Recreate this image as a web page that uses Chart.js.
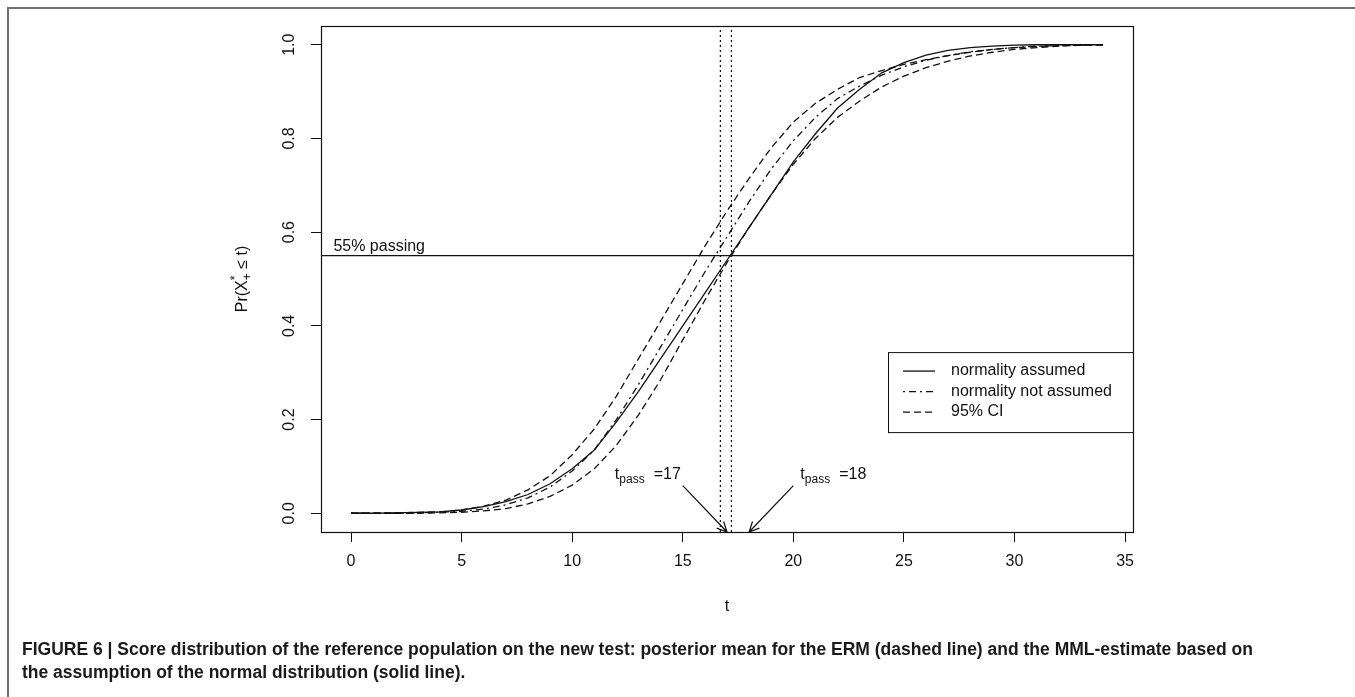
<!DOCTYPE html>
<html>
<head>
<meta charset="utf-8">
<script src="https://cdn.jsdelivr.net/npm/chart.js@4.4.1/dist/chart.umd.min.js"></script>
<style>
  html, body { margin: 0; padding: 0; background: #fff; }
  #wrap { position: relative; width: 1355px; height: 697px; overflow: hidden; }
  #frame { position: absolute; left: 7px; top: 7px; right: -5px; bottom: -5px;
           border-left: 2px solid #6e6e6e; border-top: 2px solid #6e6e6e; }
  canvas { position: absolute; left: 0; top: 0; }
  #caption { position: absolute; left: 22px; top: 638px; color: #1a1a1a; white-space: nowrap;
             font: bold 17.5px "Liberation Sans", Arial, sans-serif; line-height: 23px; }
</style>
</head>
<body>
<div id="wrap">
  <div id="frame"></div>
  <canvas id="c" width="1355" height="697"></canvas>
  <div id="caption">FIGURE 6 | Score distribution of the reference population on the new test: posterior mean for the ERM (dashed line) and the MML-estimate based on<br>the assumption of the normal distribution (solid line).</div>
</div>
<script>
// score t = 0..34
const T = [0,1,2,3,4,5,6,7,8,9,10,11,12,13,14,15,16,17,18,19,20,21,22,23,24,25,26,27,28,29,30,31,32,33,34];
// Pr(X+* <= t)
const NORMAL   = [0,0,0.001,0.002,0.003,0.007,0.014,0.025,0.040,0.063,0.095,0.135,0.195,0.26,0.33,0.40,0.47,0.54,0.61,0.68,0.75,0.81,0.865,0.905,0.94,0.962,0.978,0.988,0.994,0.997,0.999,1,1,1,1];
const ERM      = [0,0,0,0.001,0.002,0.004,0.009,0.018,0.033,0.056,0.09,0.135,0.20,0.275,0.355,0.435,0.515,0.59,0.665,0.735,0.795,0.845,0.885,0.912,0.935,0.953,0.967,0.977,0.985,0.99,0.994,0.997,0.998,0.999,1];
const CI_UPPER = [0,0,0.001,0.002,0.003,0.007,0.015,0.028,0.05,0.08,0.125,0.18,0.25,0.33,0.41,0.49,0.57,0.645,0.715,0.78,0.835,0.875,0.905,0.93,0.945,0.958,0.968,0.977,0.984,0.99,0.994,0.996,0.998,0.999,1];
const CI_LOWER = [0,0,0,0,0.001,0.002,0.005,0.01,0.02,0.036,0.06,0.095,0.145,0.21,0.285,0.37,0.455,0.535,0.61,0.68,0.745,0.8,0.845,0.88,0.91,0.933,0.951,0.965,0.976,0.984,0.99,0.994,0.997,0.999,1];

const PASS_LEVEL = 0.55;
const T_PASS_LINES = [16.7, 17.2];
const X_TICKS = [0, 5, 10, 15, 20, 25, 30, 35];
const Y_TICKS = [0, 0.2, 0.4, 0.6, 0.8, 1.0];
const X_RANGE = [-1.36, 35.36];
const Y_RANGE = [-0.04, 1.04];

// arrows to t_pass
const ARROW_FROM_T = [15, 20];
const ARROW_TO_T = [17, 18];
const ARROW_FROM_P = 0.059;
const ARROW_TO_P = -0.04;
const PASS_LABELS = ['=17', '=18'];

const LEGEND_LABELS = ['normality assumed', 'normality not assumed', '95% CI'];

const FONT = '"Liberation Sans", Arial, Helvetica, sans-serif';
const INK = '#111';
const SOLID = [];
const DASH = [7, 4];
const DOTDASH = [2, 4, 7, 4];
const DOTS = [2, 3];

Chart.defaults.font.family = FONT;
Chart.defaults.font.size = 16;
Chart.defaults.color = INK;

const pts = ys => T.map((t, i) => ({ x: t, y: ys[i] }));
const curve = (label, ys, dash) => ({
  label, data: pts(ys), borderColor: INK, borderWidth: 1.3, borderDash: dash,
  pointRadius: 0, tension: 0, fill: false
});

const datasets = [
  curve('normality assumed', NORMAL, SOLID),
  curve('normality not assumed', ERM, DOTDASH),
  curve('95% CI', CI_UPPER, DASH),
  curve('95% CI lower', CI_LOWER, DASH),
  { label: 'pass', data: [{ x: X_RANGE[0], y: PASS_LEVEL }, { x: X_RANGE[1], y: PASS_LEVEL }],
    borderColor: INK, borderWidth: 1.3, pointRadius: 0 },
  ...T_PASS_LINES.map(v => ({ label: 't' + v, data: [{ x: v, y: Y_RANGE[0] }, { x: v, y: Y_RANGE[1] }],
    borderColor: INK, borderWidth: 1.2, borderDash: DOTS, pointRadius: 0 }))
];

// t with subscript "pass"
function tPass(ctx, x, y, tail, alignRight) {
  ctx.font = '16px ' + FONT;
  const wt = ctx.measureText('t').width;
  const wr = ctx.measureText(tail).width;
  ctx.font = '12px ' + FONT;
  const ws = ctx.measureText('pass').width;
  const gap = 9;
  const w = wt + ws + gap + wr;
  let x0 = alignRight ? x - w : x;
  ctx.textAlign = 'left';
  ctx.textBaseline = 'alphabetic';
  ctx.font = '16px ' + FONT;
  ctx.fillText('t', x0, y);
  ctx.font = '12px ' + FONT;
  ctx.fillText('pass', x0 + wt, y + 4);
  ctx.font = '16px ' + FONT;
  ctx.fillText(tail, x0 + wt + ws + gap, y);
}

function arrow(ctx, x1, y1, x2, y2) {
  ctx.beginPath();
  ctx.moveTo(x1, y1); ctx.lineTo(x2, y2);
  const a = Math.atan2(y2 - y1, x2 - x1), L = 11, s = Math.PI / 7;
  ctx.moveTo(x2 - L * Math.cos(a - s), y2 - L * Math.sin(a - s));
  ctx.lineTo(x2, y2);
  ctx.lineTo(x2 - L * Math.cos(a + s), y2 - L * Math.sin(a + s));
  ctx.stroke();
}

const decor = {
  id: 'decor',
  afterDraw(chart) {
    const { ctx, chartArea: ca, scales: { x, y } } = chart;
    ctx.save();
    ctx.strokeStyle = INK;
    ctx.fillStyle = INK;
    ctx.lineWidth = 1.2;
    ctx.setLineDash([]);
    // plot box
    ctx.strokeRect(ca.left + 0.5, ca.top + 0.5, ca.right - ca.left, ca.bottom - ca.top);

    // y tick labels, rotated like R
    ctx.font = '16px ' + FONT;
    ctx.textAlign = 'center';
    ctx.textBaseline = 'middle';
    y.ticks.forEach(tk => {
      ctx.save();
      ctx.translate(ca.left - 31, y.getPixelForValue(tk.value));
      ctx.rotate(-Math.PI / 2);
      ctx.fillText(tk.value.toFixed(1), 0, 0);
      ctx.restore();
    });

    // y axis title Pr(X*+ <= t)
    ctx.save();
    ctx.translate(ca.left - 78, (ca.top + ca.bottom) / 2);
    ctx.rotate(-Math.PI / 2);
    ctx.textBaseline = 'middle';
    ctx.textAlign = 'left';
    const parts = [['Pr(X', 16, 0], ['*', 12, -7], ['+', 12, 5], [' \u2264 t)', 16, 0]];
    let w = 0;
    parts.forEach(([s, f], i) => {
      ctx.font = f + 'px ' + FONT;
      const m = ctx.measureText(s).width;
      if (i !== 1) w += m;
    });
    let cx = -w / 2, subStart = 0;
    parts.forEach(([s, f, dy], i) => {
      ctx.font = f + 'px ' + FONT;
      const m = ctx.measureText(s).width;
      if (i === 2) cx = subStart;
      if (i === 1) subStart = cx;
      ctx.fillText(s, cx, dy);
      cx += m;
    });
    ctx.restore();

    // 55% passing
    ctx.font = '16px ' + FONT;
    ctx.textAlign = 'left';
    ctx.textBaseline = 'alphabetic';
    ctx.fillText('55% passing', x.getPixelForValue(-0.8), y.getPixelForValue(PASS_LEVEL) - 5);

    // t_pass arrows
    ARROW_FROM_T.forEach((t0, i) => {
      const x1 = x.getPixelForValue(t0), y1 = y.getPixelForValue(ARROW_FROM_P);
      arrow(ctx, x1, y1, x.getPixelForValue(ARROW_TO_T[i]), y.getPixelForValue(ARROW_TO_P));
      if (i === 0) tPass(ctx, x1 - 2, y1 - 7, PASS_LABELS[i], true);
      else tPass(ctx, x1 + 7, y1 - 7, PASS_LABELS[i], false);
    });

    // legend
    const lw = 245, top = y.getPixelForValue(0.344), rowH = 20.5;
    const left = ca.right - lw;
    ctx.lineWidth = 1;
    ctx.strokeRect(left + 0.5, top + 0.5, lw, rowH * 4 - 2);
    const styles = [SOLID, DOTDASH, DASH];
    LEGEND_LABELS.forEach((lab, i) => {
      const ry = top + 19 + i * rowH;
      ctx.setLineDash(styles[i]);
      ctx.lineWidth = 1.3;
      ctx.beginPath();
      ctx.moveTo(left + 15, ry); ctx.lineTo(left + 47, ry);
      ctx.stroke();
      ctx.setLineDash([]);
      ctx.textBaseline = 'middle';
      ctx.fillText(lab, left + 63, ry);
    });
    ctx.restore();
  }
};

new Chart(document.getElementById('c'), {
  type: 'line',
  data: { datasets },
  plugins: [decor],
  options: {
    responsive: false,
    animation: false,
    devicePixelRatio: 1,
    layout: { padding: { top: 26, right: 222, left: 0, bottom: 0 } },
    plugins: { legend: { display: false }, tooltip: { enabled: false } },
    scales: {
      x: {
        type: 'linear', min: X_RANGE[0], max: X_RANGE[1],
        afterFit: s => { s.height = 165; },
        afterBuildTicks: s => { s.ticks = X_TICKS.map(v => ({ value: v })); },
        grid: { drawOnChartArea: false, drawTicks: true, tickLength: 10, color: INK },
        border: { display: true, color: INK },
        ticks: { padding: 10, font: { size: 16 }, color: INK, maxRotation: 0 },
        title: { display: true, text: 't', font: { size: 16 }, padding: { top: 0, bottom: 81 } }
      },
      y: {
        type: 'linear', min: Y_RANGE[0], max: Y_RANGE[1],
        afterFit: s => { s.width = 321; },
        afterBuildTicks: s => { s.ticks = Y_TICKS.map(v => ({ value: v })); },
        grid: { drawOnChartArea: false, drawTicks: true, tickLength: 10, color: INK },
        border: { display: true, color: INK },
        ticks: { display: false }
      }
    }
  }
});
</script>
</body>
</html>
